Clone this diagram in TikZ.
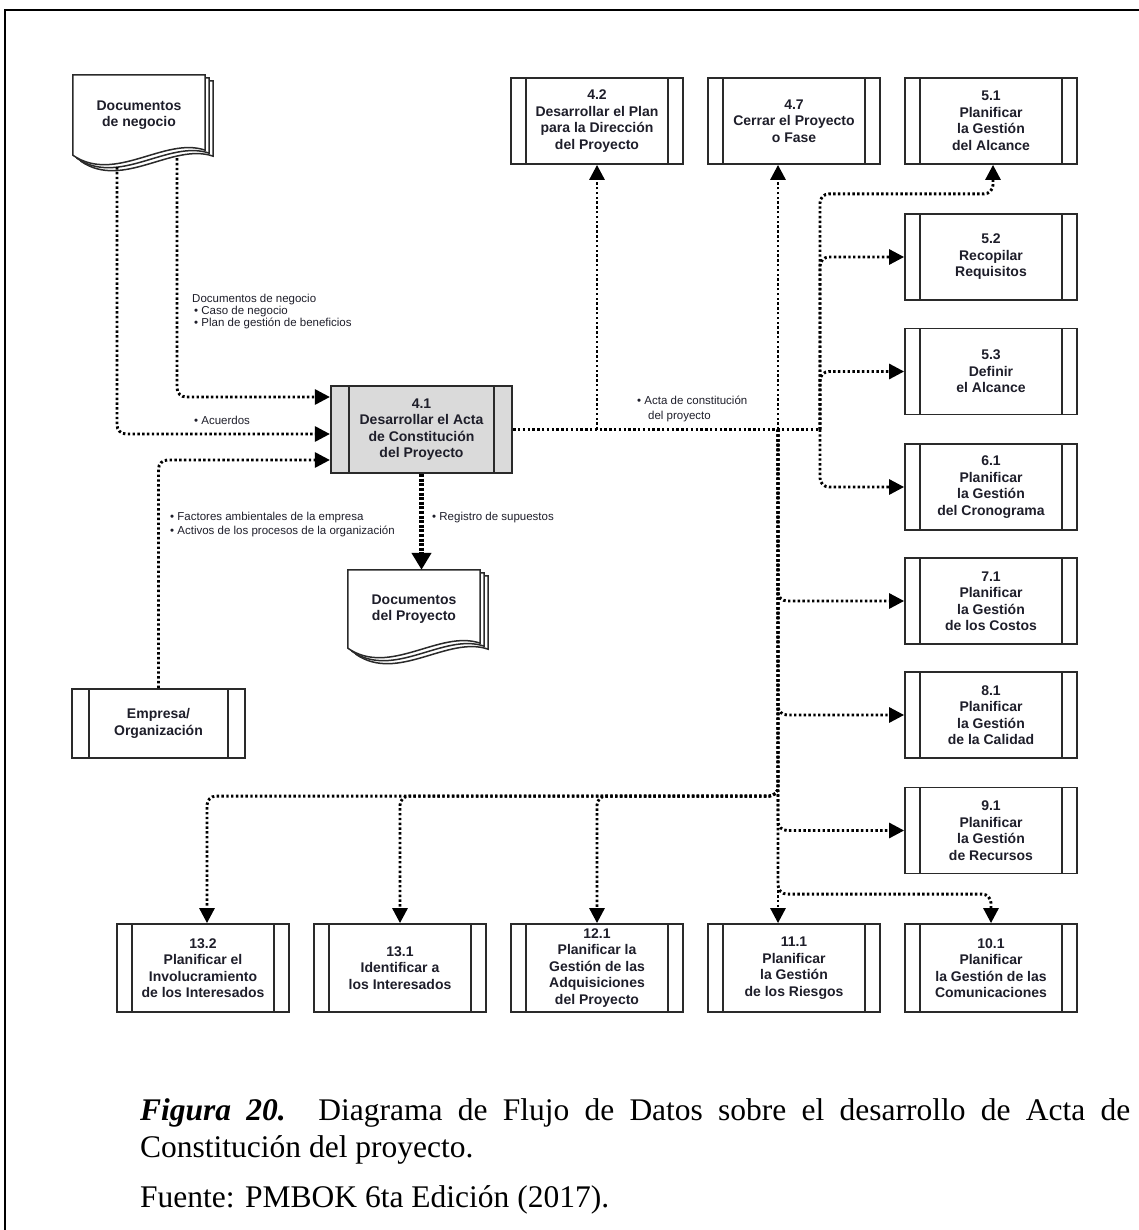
\documentclass[tikz,border=0pt]{standalone}
\usepackage{fontspec}
\setmainfont{Liberation Serif}
\newfontfamily\sansf{Liberation Sans}
\usetikzlibrary{arrows.meta,calc}
\definecolor{boxc}{HTML}{2A2A2A}
\definecolor{txtc}{HTML}{1E1E2A}
\definecolor{grayf}{HTML}{DADADA}
\pgfdeclarelayer{bg}
\pgfsetlayers{bg,main}
\newcommand\docsheet[3]{%
  \draw[docline] ($(#1.north west)+(#2,#3)$) -- ($(#1.north east)+(#2,#3)$)
    -- ($(#1.south east)+(#2,#3-5)$)
    .. controls ($(#1.south west)+(#2+92,#3-19)$) and ($(#1.south west)+(#2+42,#3+29)$) ..
    ($(#1.south west)+(#2,#3)$) -- cycle;}
\begin{document}
\begin{tikzpicture}[x=1pt,y=-1pt,
  flow/.style={line width=2.9pt, dash pattern=on 2.4pt off 2.4pt, draw=black},
  atip/.style={-{Triangle[length=15pt,width=15pt]}},
  heavyflow/.style={line width=4.4pt, dash pattern=on 3pt off 1.6pt, draw=black,
    -{Triangle[length=17pt,width=19pt]}},
  procbase/.style={draw=boxc, line width=1.8pt, fill=white, inner sep=0pt, align=center,
    font=\sansf\bfseries\fontsize{14}{16.5}\selectfont, text=txtc},
  bars/.style={path picture={\draw[line width=1.6pt,boxc]
    ([xshift=#1]path picture bounding box.north west) -- ([xshift=#1]path picture bounding box.south west)
    ([xshift=-#1]path picture bounding box.north east) -- ([xshift=-#1]path picture bounding box.south east);}},
  proc/.style={procbase, bars=15pt, minimum width=172pt, minimum height=86pt},
  docnode/.style={inner sep=0pt, minimum width=132pt, align=center,
    font=\sansf\bfseries\fontsize{14}{16.5}\selectfont, text=txtc},
  docline/.style={draw=boxc, line width=1.5pt, fill=white},
  lbl/.style={inner sep=0pt, anchor=base west, font=\sansf\fontsize{11.5}{12}\selectfont, text=txtc},
  captxt/.style={inner sep=0pt, anchor=base west, font=\fontsize{31.5}{36}\selectfont},
  rc/.style={rounded corners=9pt}
]
\useasboundingbox (0,0) rectangle (1139,1230);
\draw[line width=2.5pt] (5,1245) -- (5,10) -- (1150,10);

% process boxes
\node[proc] (p42) at (597,121) {4.2\\Desarrollar el Plan\\para la Dirección\\del Proyecto};
\node[proc] (p47) at (794,121) {4.7\\Cerrar el Proyecto\\o Fase};
\node[proc] (p51) at (991,121) {5.1\\Planificar\\la Gestión\\del Alcance};
\node[proc] (p52) at (991,257) {5.2\\Recopilar\\Requisitos};
\node[proc] (p53) at (991,371.5) {5.3\\Definir\\el Alcance};
\node[proc] (p61) at (991,487) {6.1\\Planificar\\la Gestión\\del Cronograma};
\node[proc] (p71) at (991,601) {7.1\\Planificar\\la Gestión\\de los Costos};
\node[proc] (p81) at (991,715) {8.1\\Planificar\\la Gestión\\de la Calidad};
\node[proc] (p91) at (991,830.5) {9.1\\Planificar\\la Gestión\\de Recursos};
\node[proc, minimum height=88pt] (p132) at (203,968) {13.2\\Planificar el\\Involucramiento\\de los Interesados};
\node[proc, minimum height=88pt] (p131) at (400,968) {13.1\\Identificar a\\los Interesados};
\node[proc, minimum height=88pt] (p121) at (597,968) {12.1\\Planificar la\\Gestión de las\\Adquisiciones\\del Proyecto};
\node[proc, minimum height=88pt] (p111) at (794,968) {11.1\\Planificar\\la Gestión\\de los Riesgos};
\node[proc, minimum height=88pt] (p101) at (991,968) {10.1\\Planificar\\la Gestión de las\\Comunicaciones};

\node[procbase, bars=18pt, fill=grayf, line width=2.2pt, minimum width=181pt, minimum height=87pt]
  (p41) at (421.5,429.5) {4.1\\Desarrollar el Acta\\de Constitución\\del Proyecto};
\node[procbase, bars=17pt, minimum width=173pt, minimum height=69pt]
  (emp) at (158.5,723.5) {Empresa/\\Organización};

% documents
\node[docnode, minimum height=80pt] (docneg) at (139,115) {Documentos\\de negocio};
\node[docnode, minimum height=78pt] (docproj) at (414,609) {Documentos\\del Proyecto};
\begin{pgfonlayer}{bg}
  \docsheet{docneg}{8}{6}\docsheet{docneg}{4}{3}\docsheet{docneg}{0}{0}
  \docsheet{docproj}{8}{6}\docsheet{docproj}{4}{3}\docsheet{docproj}{0}{0}
\end{pgfonlayer}

% inputs to 4.1
\draw[flow,atip,rc] ([xshift=38pt,yshift=-3pt]docneg.south) |- ([yshift=32.5pt]p41.west);
\draw[flow,atip,rc] ([xshift=-22pt,yshift=-12pt]docneg.south) |- ([yshift=-4.5pt]p41.west);
\draw[flow,atip,rc] (emp.north) |- ([yshift=-30.5pt]p41.west);

% output to project documents
\draw[heavyflow] (p41.south) -- (p41.south |- docproj.north);

% project charter distribution
\coordinate (jA) at (778,429.5);
\coordinate (jB) at (820,429.5);
\draw[flow] (p41.east) -- (jB);
\draw[flow,atip] (p42.south |- p41.east) -- (p42.south);
\draw[flow,atip] (jA) -- (jA |- p47.south);
\draw[flow,atip] (jA) -- (jA |- p111.north);
\draw[flow,atip,rc] (jB) |- ($(p51.south)+(2,29)$) -- ([xshift=2pt]p51.south);
\draw[flow,atip,rc] (jB) |- (p52.west);
\draw[flow,atip,rc] (jB) |- (p53.west);
\draw[flow,atip,rc] (jB) |- (p61.west);
\draw[flow,atip,rc] (jA) |- (p71.west);
\draw[flow,atip,rc] (jA) |- (p81.west);
\draw[flow,atip,rc] (jA) |- (p91.west);
\draw[flow,atip,rc] (jA) |- ($(p101.north)+(0,-29)$) -- (p101.north);
\draw[flow,atip,rc] (jA) |- ($(p132.north)+(4,-127)$) -- ([xshift=4pt]p132.north);
\draw[flow,atip,rc] (jA) |- ($(p131.north)+(0,-127)$) -- (p131.north);
\draw[flow,atip,rc] (jA) |- ($(p121.north)+(0,-127)$) -- (p121.north);

% labels
\node[lbl] (lda) at (192,302) {Documentos de negocio};
\node[lbl] (ldb) at (194,314) {• Caso de negocio};
\node[lbl] (ldc) at (194,326) {• Plan de gestión de beneficios};
\node[lbl] (lacu) at (194,424) {• Acuerdos};
\node[lbl] (lfa) at (170,520) {• Factores ambientales de la empresa};
\node[lbl] (lfb) at (170,534) {• Activos de los procesos de la organización};
\node[lbl] (lreg) at (432,520) {• Registro de supuestos};
\node[lbl] (lacta) at (637,404) {• Acta de constitución};
\node[lbl] (lactb) at (648,419) {del proyecto};

% caption
\node[captxt] (cap1) at (140,1120) {\makebox[990pt][s]{\textbf{\textit{Figura 20.}} Diagrama de Flujo de Datos sobre el desarrollo de Acta de}};
\node[captxt] (cap2) at (140,1157) {Constitución del proyecto.};
\node[captxt] (cap3) at (140,1207) {Fuente: PMBOK 6ta Edición (2017).};
\end{tikzpicture}
\end{document}
